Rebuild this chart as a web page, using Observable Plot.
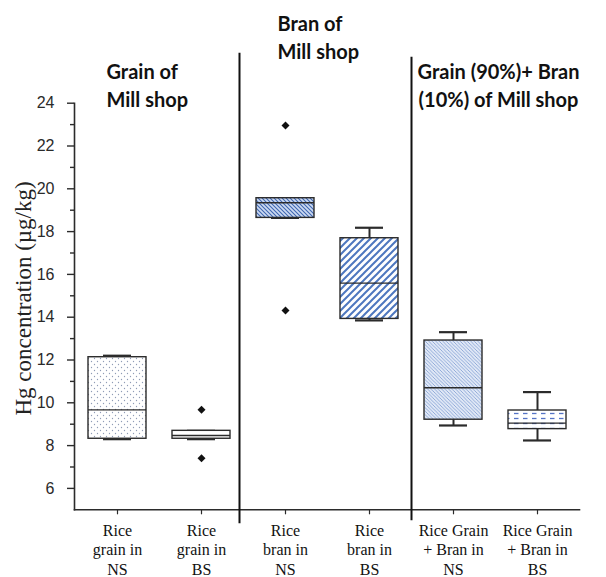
<!DOCTYPE html>
<html>
<head>
<meta charset="utf-8">
<script src="https://cdn.jsdelivr.net/npm/d3@7"></script>
<script src="https://cdn.jsdelivr.net/npm/@observablehq/plot@0.6"></script>
<style>
  html, body { margin: 0; padding: 0; background: #fff; }
  #chart { width: 606px; height: 577px; }
</style>
</head>
<body>
<svg width="0" height="0" style="position:absolute">
  <defs>
    <pattern id="pat0" patternUnits="userSpaceOnUse" width="6" height="6">
      <rect width="6" height="6" fill="#fff"/>
      <circle cx="1.5" cy="1.5" r="0.65" fill="#8f9cb6"/>
      <circle cx="4.5" cy="4.5" r="0.65" fill="#8f9cb6"/>
    </pattern>
    <pattern id="pat1" patternUnits="userSpaceOnUse" width="6" height="6">
      <rect width="6" height="6" fill="#fff"/>
    </pattern>
    <pattern id="pat2" patternUnits="userSpaceOnUse" width="4" height="4">
      <rect width="4" height="4" fill="#cddaf1"/>
      <path d="M-1,-1 L5,5 M-1,3 L1,5 M3,-1 L5,1" stroke="#3f67b1" stroke-width="1.1"/>
    </pattern>
    <pattern id="pat3" patternUnits="userSpaceOnUse" width="7" height="7">
      <rect width="7" height="7" fill="#fff"/>
      <path d="M-1,8 L8,-1 M-1,1 L1,-1 M6,8 L8,6" stroke="#4e77bf" stroke-width="2"/>
    </pattern>
    <pattern id="pat4" patternUnits="userSpaceOnUse" width="3.5" height="3.5">
      <rect width="3.5" height="3.5" fill="#e0e8f6"/>
      <path d="M-1,-1 L4.5,4.5 M-1,2.5 L1,4.5 M2.5,-1 L4.5,1" stroke="#7f9dd2" stroke-width="0.8"/>
    </pattern>
    <pattern id="pat5" patternUnits="userSpaceOnUse" width="9" height="5" y="1">
      <rect width="9" height="5" fill="#fff"/>
      <path d="M1,2.5 L5.5,2.5" stroke="#5573c6" stroke-width="1.3"/>
    </pattern>
  </defs>
</svg>
<div id="chart"></div>
<script>
// ---- data ----
const categories = [
  "Rice\ngrain in\nNS",
  "Rice\ngrain in\nBS",
  "Rice\nbran in\nNS",
  "Rice\nbran in\nBS",
  "Rice Grain\n+ Bran in\nNS",
  "Rice Grain\n+ Bran in\nBS"
];
const whiskerLow  = [8.30, 8.30, 18.64, 13.85, 8.94, 8.24];
const q1          = [8.32, 8.32, 18.64, 13.92, 9.21, 8.77];
const median      = [9.67, 8.47, 19.35, 15.59, 10.70, 9.05];
const q3          = [12.13, 8.69, 19.56, 17.69, 12.91, 9.64];
const whiskerHigh = [12.20, 8.69, 19.56, 18.18, 13.30, 10.50];
const outlierCategory = [1, 1, 2, 2];
const outlierValue    = [9.67, 7.41, 22.96, 14.31];
const groupLabels = ["Grain of\nMill shop", "Bran of\nMill shop", "Grain (90%)+ Bran\n(10%) of Mill shop"];
const groupFirstCategory = [0, 2, 4];
const yTicks = [6, 8, 10, 12, 14, 16, 18, 20, 22, 24];
const yMinorTicks = [7, 9, 11, 13, 15, 17, 19, 21, 23];
const yDomain = [5, 24];
const yLabel = "Hg concentration (µg/kg)";

// ---- build tables ----
const boxes = categories.map((c, i) => ({
  cat: c, idx: i, low: whiskerLow[i], q1: q1[i], med: median[i], q3: q3[i], high: whiskerHigh[i]
}));
const outliers = outlierCategory.map((ci, i) => ({cat: categories[ci], v: outlierValue[i]}));

// ---- styles ----
const boxInset = 13;
const capInset = 28;
const ink = "#2b2b2b";
const headerStyle = [
  {dx: -11, dy: -19, anchor: "start"},
  {dx: -8, dy: -67, anchor: "start"},
  {dx: 45, dy: -19, anchor: "middle"}
];
const sepStyle = [
  {cat: 2, dx: -46, top: -50, bottom: -14},
  {cat: 4, dx: -42, top: -46, bottom: -11}
];

const marks = [
  // axes
  Plot.axisY({ticks: yTicks, tickSize: 7, tickPadding: 13, fontSize: 16, fontFamily: "Liberation Sans, Arial, sans-serif",
    fill: "#2a2a2a", stroke: ink, strokeWidth: 1.4, label: null}),
  Plot.axisY({ticks: yMinorTicks, tickSize: 4, tickFormat: () => "", stroke: ink, strokeWidth: 1.4, label: null}),
  Plot.axisX({tickSize: 5, tickPadding: 7, fontSize: 16, fontFamily: "Liberation Serif, Times New Roman, serif",
    lineHeight: 1.22, fill: "#111", stroke: ink, strokeWidth: 1.2, label: null}),
  Plot.frame({anchor: "left", stroke: ink, strokeWidth: 1.6}),
  Plot.frame({anchor: "bottom", stroke: ink, strokeWidth: 1.6}),
  // separators
  ...sepStyle.map(s => Plot.ruleX([categories[s.cat]], {x: d => d, dx: s.dx, insetTop: s.top, insetBottom: s.bottom, stroke: "#111", strokeWidth: 2})),
  // whiskers
  Plot.ruleX(boxes, {x: "cat", y1: "low", y2: "high", stroke: ink, strokeWidth: 2}),
  Plot.tickY(boxes, {x: "cat", y: "low", insetLeft: capInset, insetRight: capInset, stroke: ink, strokeWidth: 2.2}),
  Plot.tickY(boxes, {x: "cat", y: "high", insetLeft: capInset, insetRight: capInset, stroke: ink, strokeWidth: 2.2}),
  // boxes
  Plot.barY(boxes, {x: "cat", y1: "q1", y2: "q3", fill: d => `url(#pat${d.idx})`, stroke: ink, strokeWidth: 1.4,
    insetLeft: boxInset, insetRight: boxInset}),
  Plot.tickY(boxes, {x: "cat", y: "med", insetLeft: boxInset, insetRight: boxInset, stroke: ink, strokeWidth: 1.4}),
  // outliers
  Plot.dot(outliers, {x: "cat", y: "v", symbol: "diamond2", r: 3.6, fill: "#111", stroke: "none"}),
  // y label
  Plot.text([yLabel], {text: d => d, frameAnchor: "left", rotate: -90, textAnchor: "middle", lineAnchor: "middle",
    dx: -51, dy: -8, fontSize: 23,
    fontFamily: "Liberation Serif, Times New Roman, serif", fill: "#222"}),
  // headers
  ...groupLabels.map((g, i) => Plot.text([g], {text: d => d, x: () => categories[groupFirstCategory[i]], frameAnchor: "top",
    dx: headerStyle[i].dx, dy: headerStyle[i].dy, textAnchor: headerStyle[i].anchor, lineAnchor: "middle", lineHeight: 1.42,
    fontSize: 20, fontWeight: "bold", fontFamily: "Lato, 'Open Sans', sans-serif", fill: "#111"}))
];

const chart = Plot.plot({
  width: 606,
  height: 577,
  marginTop: 102.7,
  marginBottom: 67.7,
  marginLeft: 74,
  marginRight: 27,
  style: {background: "#fff", overflow: "visible"},
  x: {type: "band", domain: categories, padding: 0},
  y: {domain: yDomain},
  color: {type: "identity"},
  marks
});
document.getElementById("chart").appendChild(chart);
</script>
</body>
</html>
